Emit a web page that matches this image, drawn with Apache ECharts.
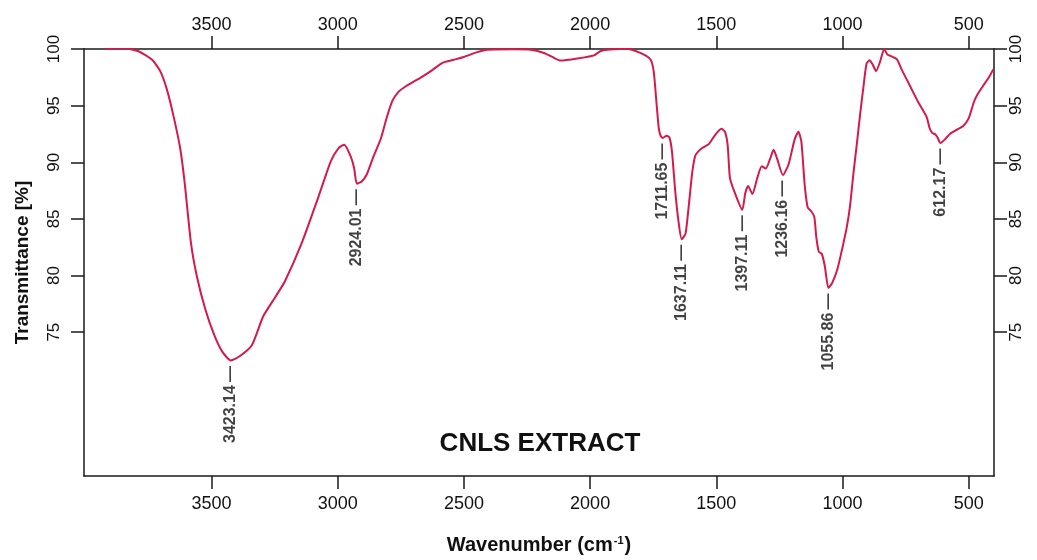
<!DOCTYPE html>
<html>
<head>
<meta charset="utf-8">
<script src="https://cdn.jsdelivr.net/npm/echarts@6/dist/echarts.min.js"></script>
<style>
  html, body { margin: 0; padding: 0; background: #ffffff; }
  #chart { width: 1037px; height: 560px; }
</style>
</head>
<body>
<div id="chart"></div>
<script>
// FT-IR spectrum of the CNLS extract: wavenumber (cm-1) and transmittance (%)
const wavenumbers = [
  3920, 3880, 3842, 3789, 3736, 3703, 3677, 3651, 3624, 3607, 3581, 3558, 3525, 3490, 3458,
  3423.14, 3390, 3340, 3295, 3250, 3209, 3143, 3077, 3027, 2995, 2974, 2950, 2935,
  2924.01, 2905, 2885, 2860, 2829, 2805, 2783, 2760, 2737, 2700, 2671, 2631, 2585, 2540, 2500,
  2450, 2407, 2300, 2236, 2183, 2150, 2117, 2051, 1985, 1960, 1932, 1880, 1853, 1801, 1761,
  1748, 1738, 1728, 1720, 1711.65, 1697, 1686, 1676, 1663, 1650, 1637.11, 1622, 1609, 1596,
  1583, 1560, 1530, 1505, 1480, 1466, 1455, 1446, 1425, 1397.11, 1385, 1374, 1357, 1338, 1320,
  1304, 1286, 1273, 1260, 1236.16, 1214, 1190, 1175, 1163, 1150, 1138, 1125, 1112, 1104, 1094,
  1082, 1070, 1055.86, 1040, 1020, 1000, 983, 970, 957, 944, 930, 917, 905, 893, 880, 867, 851,
  835, 822, 810, 785, 766, 733, 700, 667, 655, 645, 632, 624, 612.17, 595, 575, 545, 522, 500,
  480, 465, 443, 420, 403
];
const transmittance = [
  100.0, 100.05, 100.05, 99.8, 99.07, 98.05, 96.46, 94.14, 91.24, 88.35, 82.83, 79.94, 77.07, 74.8, 73.3,
  72.5, 72.85, 73.85, 76.4, 78.0, 79.5, 82.83, 86.9, 90.1, 91.3, 91.55, 90.6, 89.5,
  88.1, 88.3, 88.92, 90.4, 92.1, 94.0, 95.44, 96.2, 96.6, 97.1, 97.48, 98.05, 98.78, 99.05, 99.3,
  99.7, 99.94, 99.97, 99.94, 99.65, 99.3, 98.98, 99.16, 99.44, 99.8, 99.94, 100.0, 100.0, 99.65, 99.07,
  98.0, 95.5, 93.0, 92.3, 92.15, 92.35, 92.2, 91.0, 87.5, 84.8, 83.2, 83.7, 86.2, 89.0,
  90.6, 91.2, 91.6, 92.4, 92.95, 92.7, 91.5, 88.6, 87.2, 85.8, 87.3, 87.9, 87.2, 88.6, 89.65,
  89.44, 90.37, 91.1, 90.37, 88.87, 89.8, 92.0, 92.7, 91.8, 88.0, 86.0, 85.7, 85.2, 83.4, 82.1,
  81.9, 80.8, 78.9, 79.4, 80.6, 82.5, 84.3, 86.2, 89.0, 91.5, 94.3, 96.7, 98.7, 99.0, 98.6, 98.05, 98.9,
  100.0, 99.5, 99.4, 99.1, 98.2, 96.75, 95.3, 94.0, 93.0, 92.6, 92.45, 92.2, 91.7, 92.0, 92.5, 92.9, 93.2, 93.9,
  95.3, 96.0, 96.75, 97.5, 98.2
];
// annotated band positions (cm-1)
const peakPositions = [3423.14, 2924.01, 1711.65, 1637.11, 1397.11, 1236.16, 1055.86, 612.17];

const xTickValues = [3500, 3000, 2500, 2000, 1500, 1000, 500];
const yTickValues = [75, 80, 85, 90, 95, 100];

const FONT = '"Liberation Sans", Arial, Helvetica, sans-serif';
const AXIS_COLOR = '#1a1a1a';

const spectrum = wavenumbers.map((w, i) => [w, transmittance[i]]);
const peakPoints = peakPositions.map(p => {
  const i = wavenumbers.indexOf(p);
  return [p, transmittance[i]];
});

function xAxisDef(position, margin, extra) {
  const def = {
    type: 'value',
    position: position,
    min: 400,
    max: 4005,
    inverse: true,
    axisLine: { show: true, onZero: false, lineStyle: { color: AXIS_COLOR, width: 1.5 } },
    axisTick: { show: true, customValues: xTickValues, length: 13, lineStyle: { color: AXIS_COLOR, width: 1.5 } },
    axisLabel: {
      customValues: xTickValues, fontSize: 18, color: '#111', fontFamily: FONT, margin: margin,
      formatter: v => String(v)
    },
    splitLine: { show: false }
  };
  if (extra) Object.assign(def, extra);
  return def;
}

function yAxisDef(position, margin, extra) {
  const def = {
    type: 'value',
    position: position,
    min: 62.3,
    max: 100,
    axisLine: { show: true, onZero: false, lineStyle: { color: AXIS_COLOR, width: 1.5 } },
    axisTick: { show: true, customValues: yTickValues, length: 13, lineStyle: { color: AXIS_COLOR, width: 1.5 } },
    axisLabel: {
      customValues: yTickValues, rotate: 90, fontSize: 17, color: '#111', fontFamily: FONT, margin: margin,
      formatter: v => String(v)
    },
    splitLine: { show: false }
  };
  if (extra) Object.assign(def, extra);
  return def;
}

const chart = echarts.init(document.getElementById('chart'), null, { renderer: 'canvas' });

chart.setOption({
  backgroundColor: '#ffffff',
  animation: false,
  grid: { left: 84, right: 43, top: 49, bottom: 78, containLabel: false },
  xAxis: [
    xAxisDef('bottom', 19, {
      name: 'Wavenumber (cm{sup|-1})',
      nameLocation: 'middle',
      nameGap: 59,
      nameTextStyle: {
        fontSize: 20, fontWeight: 'bold', color: '#111', fontFamily: FONT,
        rich: { sup: { fontSize: 11, fontWeight: 'bold', color: '#111', fontFamily: FONT, verticalAlign: 'top', padding: [0, 1, 8, 1] } }
      }
    }),
    xAxisDef('top', 15)
  ],
  yAxis: [
    yAxisDef('left', 21, {
      name: 'Transmittance [%]',
      nameLocation: 'middle',
      nameGap: 52,
      nameTextStyle: { fontSize: 19, fontWeight: 'bold', color: '#111', fontFamily: FONT }
    }),
    yAxisDef('right', 14)
  ],
  graphic: [{
    type: 'text',
    x: 540,
    y: 444,
    style: {
      text: 'CNLS EXTRACT',
      font: 'bold 26px ' + FONT,
      fill: '#111',
      textAlign: 'center',
      textVerticalAlign: 'middle',
      align: 'center',
      verticalAlign: 'middle'
    }
  }],
  series: [
    {
      type: 'line',
      xAxisIndex: 0,
      yAxisIndex: 0,
      data: spectrum,
      showSymbol: false,
      smooth: 0.2,
      lineStyle: { color: '#d6194a', width: 2 },
      silent: true,
      z: 2
    },
    {
      type: 'scatter',
      xAxisIndex: 0,
      yAxisIndex: 0,
      data: peakPoints,
      symbolSize: 1,
      itemStyle: { color: 'rgba(0,0,0,0)' },
      silent: true,
      z: 3,
      label: {
        show: true,
        position: 'bottom',
        distance: 5,
        rotate: 90,
        align: 'right',
        verticalAlign: 'middle',
        fontSize: 16,
        fontWeight: 'bold',
        color: '#111',
        fontFamily: FONT,
        formatter: p => p.value[0].toFixed(2) + '\u2009\u2014'
      }
    }
  ]
});
</script>
</body>
</html>
